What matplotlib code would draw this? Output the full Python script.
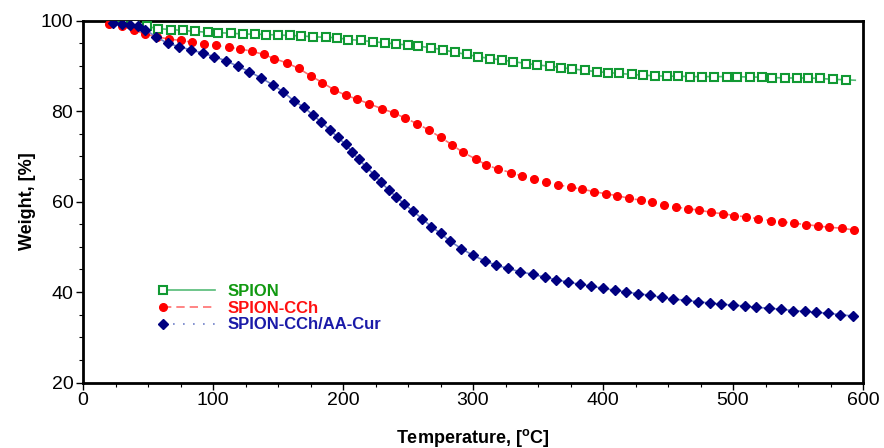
import matplotlib
matplotlib.use("Agg")
import matplotlib.pyplot as plt
from matplotlib.legend_handler import HandlerLine2D
from matplotlib.ticker import MultipleLocator

# ---------------- data ----------------
temp_spion = [22, 31, 40, 49, 58, 68, 77, 86, 96, 104, 114, 123, 132, 141, 150, 159, 168, 177, 187, 195,
              204, 214, 223, 232, 241, 250, 258, 268, 277, 286, 295, 304, 313, 322, 331, 341, 349, 359, 368, 376,
              386, 395, 404, 412, 422, 431, 440, 449, 458, 467, 476, 485, 495, 503, 513, 522, 530, 540, 549, 558,
              567, 577, 587, 594]
weight_spion = [100.0, 99.8, 99.4, 98.7, 98.2, 98.0, 97.8, 97.6, 97.4, 97.3, 97.2, 97.0, 97.0, 96.9, 96.8, 96.7,
                96.6, 96.4, 96.3, 96.2, 95.8, 95.6, 95.3, 95.1, 94.8, 94.6, 94.3, 94.0, 93.5, 93.0, 92.5, 92.0,
                91.6, 91.3, 90.9, 90.5, 90.2, 89.9, 89.6, 89.3, 89.0, 88.7, 88.5, 88.3, 88.1, 87.9, 87.8, 87.7,
                87.7, 87.6, 87.6, 87.6, 87.6, 87.6, 87.5, 87.5, 87.4, 87.3, 87.3, 87.3, 87.2, 87.0, 86.9, 86.8]

temp_cch = [20, 30, 39, 48, 57, 66, 75, 84, 93, 102, 112, 121, 130, 139, 147, 157, 166, 175, 184, 193,
            202, 211, 220, 230, 239, 248, 257, 266, 275, 284, 292, 302, 310, 319, 329, 338, 347, 356, 365, 375,
            384, 393, 402, 411, 420, 429, 438, 447, 456, 465, 474, 483, 492, 501, 510, 519, 529, 538, 547, 556,
            565, 574, 584, 593]
weight_cch = [99.3, 98.7, 97.9, 97.0, 96.4, 95.9, 95.6, 95.2, 94.8, 94.5, 94.1, 93.7, 93.2, 92.5, 91.6, 90.6,
              89.4, 87.8, 86.3, 84.7, 83.5, 82.6, 81.6, 80.5, 79.6, 78.4, 77.2, 75.8, 74.2, 72.5, 70.9, 69.4,
              68.1, 67.2, 66.4, 65.6, 65.0, 64.3, 63.7, 63.2, 62.7, 62.2, 61.7, 61.3, 60.7, 60.3, 59.8, 59.3,
              58.8, 58.4, 58.1, 57.6, 57.3, 56.9, 56.6, 56.2, 55.8, 55.5, 55.2, 54.9, 54.6, 54.3, 54.1, 53.7]

temp_cur = [23, 30, 36, 42, 48, 56, 65, 74, 83, 92, 101, 110, 119, 128, 137, 146, 154, 162, 170, 177,
            183, 190, 196, 202, 207, 212, 218, 224, 229, 235, 241, 247, 254, 261, 268, 275, 282, 291, 300, 309,
            318, 327, 336, 346, 355, 364, 373, 382, 391, 400, 409, 418, 427, 436, 445, 454, 464, 473, 482, 491,
            500, 509, 518, 528, 537, 546, 555, 564, 573, 582, 592]
weight_cur = [99.4, 99.3, 99.0, 98.7, 98.0, 96.4, 95.0, 94.2, 93.5, 92.8, 92.0, 91.1, 89.9, 88.7, 87.3, 85.8,
              84.2, 82.3, 80.8, 79.1, 77.6, 75.8, 74.2, 72.6, 71.0, 69.3, 67.6, 65.9, 64.3, 62.6, 61.0, 59.5,
              57.8, 56.2, 54.4, 53.0, 51.3, 49.6, 48.1, 46.9, 45.9, 45.2, 44.5, 43.9, 43.3, 42.7, 42.2, 41.7,
              41.3, 40.8, 40.4, 40.0, 39.6, 39.3, 38.8, 38.4, 38.2, 37.8, 37.6, 37.3, 37.1, 36.9, 36.6, 36.4,
              36.2, 35.9, 35.7, 35.5, 35.3, 35.0, 34.7]

labels = ["SPION", "SPION-CCh", "SPION-CCh/AA-Cur"]
x_ticks = [0, 100, 200, 300, 400, 500, 600]
y_ticks = [20, 40, 60, 80, 100]

# ---------------- style ----------------
plt.rcParams['font.family'] = ['Liberation Sans', 'DejaVu Sans']
plt.rcParams['mathtext.fontset'] = 'custom'
plt.rcParams['mathtext.rm'] = 'Liberation Sans'
plt.rcParams['mathtext.bf'] = 'Liberation Sans:bold'

fig = plt.figure(figsize=(8.84, 4.48), dpi=100)
ax = fig.add_axes([0.0939, 0.1462, 0.8824, 0.808])

green_m, green_l = '#119933', '#55bb77'
red_m, red_l = '#ff0000', '#ff7070'
blue_m, blue_l = '#000080', '#7080c8'

l1, = ax.plot(temp_spion, weight_spion, color=green_l, lw=1.2, ls='-',
              marker='s', ms=6, mfc='white', mec=green_m, mew=1.5,
              markevery=slice(0, len(temp_spion) - 1), zorder=3)
l2, = ax.plot(temp_cch, weight_cch, color=red_l, lw=1.2, ls=(0, (5, 3)),
              marker='o', ms=5.5, mfc=red_m, mec=red_m, zorder=4)
l3, = ax.plot(temp_cur, weight_cur, color=blue_l, lw=1.2, ls='-',
              marker='D', ms=5, mfc=blue_m, mec=blue_m, zorder=5)

ax.set_xlim(0, 600)
ax.set_ylim(20, 100)
ax.set_xticks(x_ticks)
ax.set_yticks(y_ticks)
ax.xaxis.set_minor_locator(MultipleLocator(25))
ax.yaxis.set_minor_locator(MultipleLocator(5))
ax.tick_params(which='major', direction='out', length=5, width=1, labelsize=14, pad=2)
ax.tick_params(which='minor', direction='out', length=3, width=0.8)
for s in ax.spines.values():
    s.set_linewidth(2)

ax.set_xlabel(r'Temperature, [$\mathbf{^{o}}$C]', fontsize=13, fontweight='bold', labelpad=13)
ax.set_ylabel('Weight, [%]', fontsize=13, fontweight='bold', labelpad=3)


class LeftMarkerHandler(HandlerLine2D):
    def create_artists(self, legend, orig_handle, xdescent, ydescent, width, height, fontsize, trans):
        artists = super().create_artists(legend, orig_handle, xdescent, ydescent,
                                         width, height, fontsize, trans)
        for a in artists:
            a.set_markevery([0])
        return artists


leg_l1 = plt.Line2D([], [], color=green_l, lw=1.2, ls='-', marker='s', ms=6, mfc='white', mec=green_m, mew=1.5)
leg_l2 = plt.Line2D([], [], color=red_l, lw=1.2, ls=(0, (5, 3)), marker='o', ms=5.5, mfc=red_m, mec=red_m)
leg_l3 = plt.Line2D([], [], color=blue_l, lw=1.2, ls=(0, (1, 5)), marker='D', ms=5, mfc=blue_m, mec=blue_m)

leg = ax.legend([leg_l1, leg_l2, leg_l3], labels, loc='upper left',
                bbox_to_anchor=(0.103, 0.272), frameon=False,
                prop={'weight': 'bold', 'size': 12}, numpoints=1,
                handlelength=3.1, handletextpad=0.75, labelspacing=0.1, borderpad=0,
                borderaxespad=0, handler_map={plt.Line2D: LeftMarkerHandler()})
for t, c in zip(leg.get_texts(), ['#119911', '#ff1010', '#1a1aa8']):
    t.set_color(c)

fig.savefig('out.png', dpi=100)
